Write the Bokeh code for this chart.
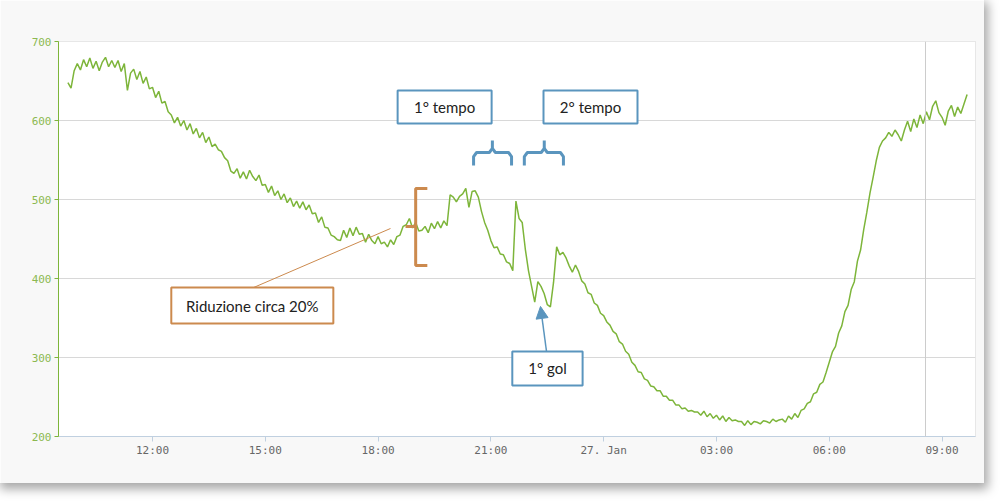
import numpy as np
from bokeh.plotting import figure
from bokeh.models import Range1d, FixedTicker, Span, Arrow, NormalHead, BoxAnnotation
from bokeh.core.properties import value
from bokeh.embed import file_html
from bokeh.resources import INLINE

# readings every 5 minutes, 26 Jan 09:45 -> 27 Jan 09:40 (one row per hour)
usage = [
    648, 641, 663,
    672, 664, 677, 668, 679, 666, 675, 663, 674, 680, 668, 676,  # 10
    667, 676, 662, 672, 638, 660, 665, 652, 662, 647, 655, 640,  # 11
    642, 629, 637, 622, 624, 611, 607, 597, 604, 593, 600, 588,  # 12
    596, 583, 590, 578, 585, 572, 579, 567, 570, 563, 561, 553,  # 13
    549, 536, 533, 539, 527, 535, 526, 537, 529, 524, 531, 518,  # 14
    519, 509, 517, 505, 511, 500, 507, 496, 502, 491, 498, 489,  # 15
    497, 487, 493, 482, 483, 471, 478, 465, 464, 455, 453, 449,  # 16
    448, 461, 452, 464, 454, 465, 456, 457, 446, 456, 448, 444,  # 17
    453, 444, 446, 440, 449, 443, 453, 455, 466, 468, 476, 464,  # 18
    471, 460, 461, 466, 458, 470, 463, 472, 464, 473, 467, 506,  # 19
    503, 497, 504, 507, 514, 490, 510, 511, 503, 485, 471, 461,  # 20
    448, 439, 440, 431, 430, 421, 419, 410, 498, 476, 471, 437,  # 21
    410, 390, 370, 396, 390, 381, 367, 364, 395, 440, 430, 433,  # 22
    426, 416, 408, 417, 409, 397, 393, 382, 380, 369, 366, 356,  # 23
    353, 345, 341, 333, 330, 320, 317, 308, 304, 294, 290, 282,  # 00
    281, 273, 271, 264, 263, 258, 258, 251, 251, 246, 246, 240,  # 01
    240, 235, 236, 232, 233, 231, 231, 227, 232, 225, 229, 223,  # 02
    227, 221, 226, 219, 224, 220, 221, 219, 219, 214, 220, 215,  # 03
    219, 218, 216, 220, 219, 217, 222, 219, 221, 222, 218, 226,  # 04
    222, 229, 224, 233, 235, 242, 244, 254, 256, 266, 269, 281,  # 05
    294, 307, 314, 331, 340, 358, 366, 386, 396, 422, 436, 462,  # 06
    484, 508, 528, 549, 566, 574, 578, 585, 580, 588, 582, 574,  # 07
    588, 599, 586, 602, 591, 607, 596, 611, 601, 618, 625, 610,  # 08
    604, 594, 612, 619, 605, 617, 609, 621, 633,                 # 09
]
hours = 9.75 + np.arange(len(usage)) * 5 / 60

tick_hours = [12, 15, 18, 21, 24, 27, 30, 33]
tick_labels = ["12:00", "15:00", "18:00", "21:00", "27. Jan", "03:00", "06:00", "09:00"]
y_ticks = [200, 300, 400, 500, 600, 700]

# annotation boxes: text, left, right, top, bottom (hours / units)
notes = ["Riduzione circa 20%", "1° tempo", "2° tempo", "1° gol"]
note_left = [12.50, 18.52, 22.40, 21.57]
note_right = [16.81, 21.02, 24.90, 23.44]
note_top = [388.6, 638.0, 638.0, 307.6]
note_bottom = [343.0, 596.2, 596.2, 264.6]

GREEN = "#7DB53A"
BLUE = "#5A95BE"
ORANGE = "#CC8A4E"
PX_X = 1 / 37.6   # hours per pixel
PX_Y = 1 / 0.79   # units per pixel

p = figure(width=984, height=483, x_range=Range1d(9.5, 33.89), y_range=Range1d(200, 700),
           output_backend="svg", toolbar_location=None,
           min_border_left=58, min_border_top=41, min_border_right=9, min_border_bottom=47)
p.styles = {"box-shadow": "2px 4px 10px 2px rgba(0,0,0,0.35)"}
p.outline_line_color = None
p.background_fill_color = "white"
p.border_fill_color = "#F8F8F8"

# screenshot panel with a soft shadow on its top/left edges
for grow, shade in [(8, "#EFEFEF"), (5, "#E0E0E0"), (3, "#D0D0D0"), (1, "#C2C2C2"), (0, "white")]:
    p.add_layout(BoxAnnotation(left=9.5 - (38 + grow) * PX_X, right=40,
                               top=700 + (21 + grow) * PX_Y, bottom=0,
                               fill_color=shade, fill_alpha=1, line_color=None, level="image"))

p.xgrid.grid_line_color = None
p.ygrid.grid_line_color = "#D8D8D8"
p.ygrid.ticker = FixedTicker(ticks=y_ticks)

p.xaxis.ticker = FixedTicker(ticks=tick_hours)
p.xaxis.major_label_overrides = dict(zip(tick_hours, tick_labels))
p.xaxis.axis_line_color = "#C0D0E0"
p.xaxis.major_tick_line_color = "#C0D0E0"
p.xaxis.major_tick_out = 5
p.xaxis.major_tick_in = 0
p.xaxis.minor_tick_line_color = None
p.xaxis.major_label_standoff = 2
p.xaxis.major_label_text_color = "#666666"
p.xaxis.major_label_text_font = "DejaVu Sans Mono"
p.xaxis.major_label_text_font_size = "11px"

p.yaxis.ticker = FixedTicker(ticks=y_ticks)
p.yaxis.axis_line_color = GREEN
p.yaxis.major_tick_line_color = GREEN
p.yaxis.major_tick_out = 4
p.yaxis.major_tick_in = 0
p.yaxis.minor_tick_line_color = None
p.yaxis.major_label_standoff = 3
p.yaxis.major_label_text_color = "#8CB850"
p.yaxis.major_label_text_font = "DejaVu Sans Mono"
p.yaxis.major_label_text_font_size = "11px"

p.add_layout(Span(location=32.56, dimension="height", line_color="#CCCCCC", line_width=1))

p.line(hours, usage, line_color=GREEN, line_width=1.5)

# orange bracket + pointer line
p.line([14.69, 18.33], [388.6, 463.3], line_color=ORANGE, line_width=1)
p.line([19.31, 19.0, 19.0, 19.31], [513.9, 513.9, 416.5, 416.5], line_color=ORANGE, line_width=3)
p.line([18.73, 19.0], [465.8, 465.8], line_color=ORANGE, line_width=3)

# blue braces over the two halves
brace_x = [[20.54, 20.54, 20.62, 20.96, 21.04, 21.04],
           [21.04, 21.12, 21.47, 21.55, 21.55],
           [21.89, 21.89, 21.97, 22.34, 22.42, 22.42],
           [22.42, 22.50, 22.85, 22.93, 22.93]]
brace_y = [[543.0, 554.4, 559.5, 559.5, 564.6, 574.7],
           [564.6, 559.5, 559.5, 554.4, 543.0],
           [543.0, 554.4, 559.5, 559.5, 564.6, 574.7],
           [564.6, 559.5, 559.5, 554.4, 543.0]]
p.multi_line(brace_x, brace_y, line_color=BLUE, line_width=3)

p.add_layout(Arrow(x_start=22.48, y_start=307.6, x_end=22.32, y_end=364.6,
                   line_color=BLUE, line_width=1.5,
                   end=NormalHead(size=12, fill_color=BLUE, line_color=BLUE)))

p.quad(left=note_left, right=note_right, top=note_top, bottom=note_bottom,
       fill_color="white", line_color=[ORANGE, BLUE, BLUE, BLUE], line_width=2)
p.text(x=[(a + b) / 2 for a, b in zip(note_left, note_right)],
       y=[(a + b) / 2 for a, b in zip(note_top, note_bottom)],
       text=notes, text_font=value("Lato"), text_font_size="15px",
       text_align="center", text_baseline="middle", text_color="#222222")

open("out.html", "w").write(file_html(p, INLINE))
